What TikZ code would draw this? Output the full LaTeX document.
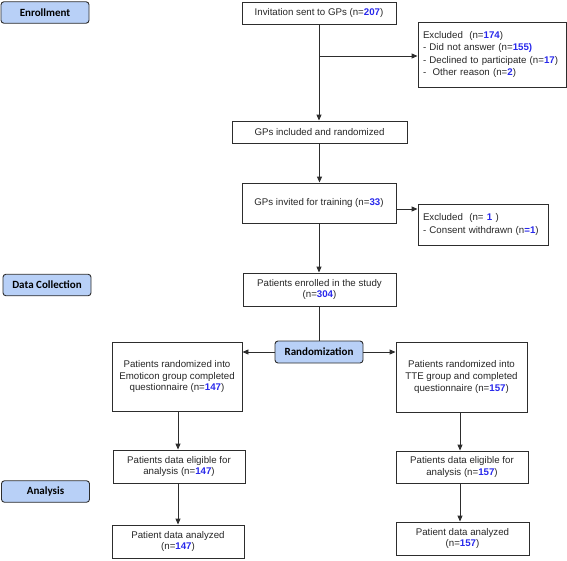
\documentclass[tikz,border=0pt]{standalone}
\usepackage{fontspec}
\setmainfont{Liberation Sans}
\newfontfamily\labfont{Carlito}
\usepackage{tikz}
\usetikzlibrary{arrows.meta, calc}
\definecolor{labfill}{RGB}{184, 208, 247}
\definecolor{edge}{RGB}{45, 45, 45}
\definecolor{numblue}{RGB}{40, 40, 235}
\newcommand{\nb}[1]{\textbf{\textcolor{numblue}{#1}}}

\begin{document}
\begin{tikzpicture}[x=1pt, y=-1pt, line width=0.9pt,
  box/.style={draw=edge, inner sep=0pt, align=center, text=black!85,
    font=\fontsize{9.7}{11.7}\selectfont},
  exclbox/.style={box, align=left, inner xsep=5pt},
  lab/.style={draw=edge, fill=labfill, rounded corners=3pt, inner sep=0pt,
    font=\labfont\bfseries\fontsize{11}{13}\selectfont,
    minimum width=88pt, minimum height=21.5pt},
  arr/.style={draw=edge, -{Triangle[length=6pt, width=5pt]}}]

  \useasboundingbox (0, 0) rectangle (567, 560);

  % stage labels
  \node[lab] (enroll) at (45, 12.5) {Enrollment};
  \node[lab] (collect) at (47, 285) {Data Collection};
  \node[lab] (analysis) at (45.5, 491.5) {Analysis};

  % GP part
  \node[box, minimum width=154pt, minimum height=22pt] (invite) at (319, 13)
    {Invitation sent to GPs (n=\nb{207})};
  \node[exclbox, text width=138pt, minimum height=65pt,
    font=\fontsize{9.7}{12.5}\selectfont] (excl) at (492, 54.5)
    {Excluded\ \ (n=\nb{174})\\
     - Did not answer (n=\nb{155)}\\
     - Declined to participate (n=\nb{17})\\
     -\ \ Other reason (n=\nb{2})};
  \node[box, minimum width=175pt, minimum height=22pt] (incl) at (319.5, 132)
    {GPs included and randomized};
  \node[box, minimum width=154pt, minimum height=40pt] (train) at (319, 203)
    {GPs invited for training (n=\nb{33})};
  \node[exclbox, text width=120pt, minimum height=41pt,
    font=\fontsize{9.7}{12.5}\selectfont] (withdrawn) at (483, 224.5)
    {Excluded\ \ (n= \nb{1} )\\
     - Consent withdrawn (n\nb{=1})};

  % patients
  \node[box, minimum width=153pt, minimum height=33pt] (enrolled) at (319.5, 289.5)
    {Patients enrolled in the study\\(n=\nb{304})};
  \node[lab, minimum height=22pt] (random) at (319, 352) {Randomization};

  \node[box, minimum width=130pt, minimum height=69pt] (emo) at (177, 376.5)
    {Patients randomized into\\Emoticon group completed\\questionnaire (n=\nb{147})};
  \node[box, minimum width=131pt, minimum height=70pt] (tte) at (461.5, 377)
    {Patients randomized into\\TTE group and completed\\questionnaire (n=\nb{157})};

  \node[box, minimum width=132pt, minimum height=33pt] (eligemo) at (179, 466.5)
    {Patients data eligible for\\analysis (n=\nb{147})};
  \node[box, minimum width=132pt, minimum height=32pt] (eligtte) at (462, 467)
    {Patients data eligible for\\analysis (n=\nb{157})};

  \node[box, minimum width=132pt, minimum height=33pt] (anaemo) at (178, 541.5)
    {Patient data analyzed\\(n=\nb{147})};
  \node[box, minimum width=133pt, minimum height=33pt] (anatte) at (462.5, 538.5)
    {Patient data analyzed\\(n=\nb{157})};

  % connectors
  \coordinate (split) at (319, 56);
  \draw[arr] (invite.south) -- (invite.south |- incl.north);
  \draw[arr] (split) -- (split -| excl.west);
  \draw[arr] (incl.south) -- (incl.south |- train.north);
  \draw[arr] ([yshift=-6pt]train.east) -- ([yshift=-6pt]train.east -| withdrawn.west);
  \draw[arr] (train.south) -- (train.south |- enrolled.north);
  \draw[draw=edge] (enrolled.south) -- (enrolled.south |- random.north);
  \draw[arr] (random.west) -- (random.west -| emo.east);
  \draw[arr] (random.east) -- (random.east -| tte.west);
  \draw[arr] ([xshift=1pt]emo.south) -- ([xshift=1pt]emo.south |- eligemo.north);
  \draw[arr] (eligemo.south -| anaemo.north) -- (anaemo.north);
  \draw[arr] ([xshift=-1.5pt]tte.south) -- ([xshift=-1.5pt]tte.south |- eligtte.north);
  \draw[arr] ([xshift=-2pt]eligtte.south) -- ([xshift=-2pt]eligtte.south |- anatte.north);

\end{tikzpicture}
\end{document}
